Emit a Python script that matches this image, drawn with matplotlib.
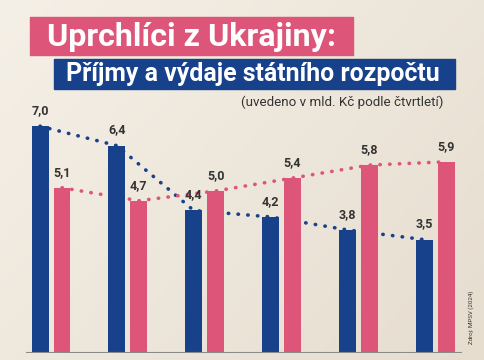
import matplotlib
matplotlib.use("Agg")
import matplotlib.pyplot as plt
import numpy as np
from matplotlib.patches import Rectangle

# Data
quarters = ["Q1", "Q2", "Q3", "Q4", "Q5", "Q6"]
vydaje = [7.0, 6.4, 4.4, 4.2, 3.8, 3.5]   # blue
prijmy = [5.1, 4.7, 5.0, 5.4, 5.8, 5.9]   # pink
labels_v = ["7,0", "6,4", "4,4", "4,2", "3,8", "3,5"]
labels_p = ["5,1", "4,7", "5,0", "5,4", "5,8", "5,9"]

title1 = "Uprchlíci z Ukrajiny:"
title2 = "Příjmy a výdaje státního rozpočtu"
subtitle = "(uvedeno v mld. Kč podle čtvrtletí)"
source = "Zdroj: MPSV (2024)"

BLUE = "#17418a"
PINK = "#dd5679"
TXT = "#333333"

W, H = 485, 360
fig = plt.figure(figsize=(W / 100, H / 100), dpi=100)

# background gradient
bg = fig.add_axes([0, 0, 1, 1])
xx, yy = np.meshgrid(np.linspace(0, 1, 200), np.linspace(0, 1, 200))
t = np.clip(0.6 * xx + 0.4 * yy, 0, 1)
c0 = np.array([0xf5, 0xf0, 0xe7]) / 255
c1 = np.array([0xe6, 0xdd, 0xcf]) / 255
img = c0[None, None, :] * (1 - t[..., None]) + c1[None, None, :] * t[..., None]
bg.imshow(img, extent=[0, W, H, 0], aspect="auto")
bg.set_xlim(0, W)
bg.set_ylim(H, 0)
bg.axis("off")

# title boxes (pixel coords, y from top)
bg.add_patch(Rectangle((30, 17), 323, 38, color=PINK, zorder=2))
bg.add_patch(Rectangle((54, 59), 401, 30, color=BLUE, zorder=2))
bg.text(47, 37, title1, color="white", fontsize=23.2, fontweight="bold",
        family="Roboto", va="center", ha="left", zorder=3)
bg.text(66, 74.5, title2, color="white", fontsize=17.9, fontweight="bold",
        family="Roboto", va="center", ha="left", zorder=3)
bg.text(443, 102, subtitle, color=TXT, fontsize=9.6, family="Roboto",
        va="center", ha="right", zorder=3)
bg.text(471, 317, source, color=TXT, fontsize=4.4, family="Roboto",
        rotation=90, va="center", ha="center", zorder=3)

# chart axes: left 26px, right 462px, baseline 353px from top, 32.4 px/unit
ppu = 32.4
ymax = 8.0
bottom_px = H - 353
height_px = ymax * ppu
ax = fig.add_axes([26 / W, bottom_px / H, (462 - 26) / W, height_px / H])
ax.patch.set_alpha(0)

x = np.arange(len(quarters))
bw = 0.22
off = 0.143
ax.plot(x - off, vydaje, linestyle=(0, (0.1, 2.6)), dash_capstyle="round",
        color=BLUE, lw=2.6, zorder=1)
ax.plot(x + off, prijmy, linestyle=(0, (0.1, 2.6)), dash_capstyle="round",
        color=PINK, lw=2.6, zorder=1)
ax.bar(x - off, vydaje, width=bw, color=BLUE, zorder=2)
ax.bar(x + off, prijmy, width=bw, color=PINK, zorder=2)

for xi, v, lab in zip(x, vydaje, labels_v):
    ax.text(xi - off, v + 0.28, lab, ha="center", va="bottom", color=TXT,
            fontsize=9, fontweight="bold", family="Roboto", zorder=3)
for xi, v, lab in zip(x, prijmy, labels_p):
    ax.text(xi + off, v + 0.28, lab, ha="center", va="bottom", color=TXT,
            fontsize=9, fontweight="bold", family="Roboto", zorder=3)

ax.set_xlim(-0.326, 5.35)
ax.set_ylim(0, ymax)
ax.axhline(0, color="#8a8a8a", lw=1.5, zorder=4)
for s in ax.spines.values():
    s.set_visible(False)
ax.set_xticks([])
ax.set_yticks([])

fig.savefig("out.png", dpi=100)
